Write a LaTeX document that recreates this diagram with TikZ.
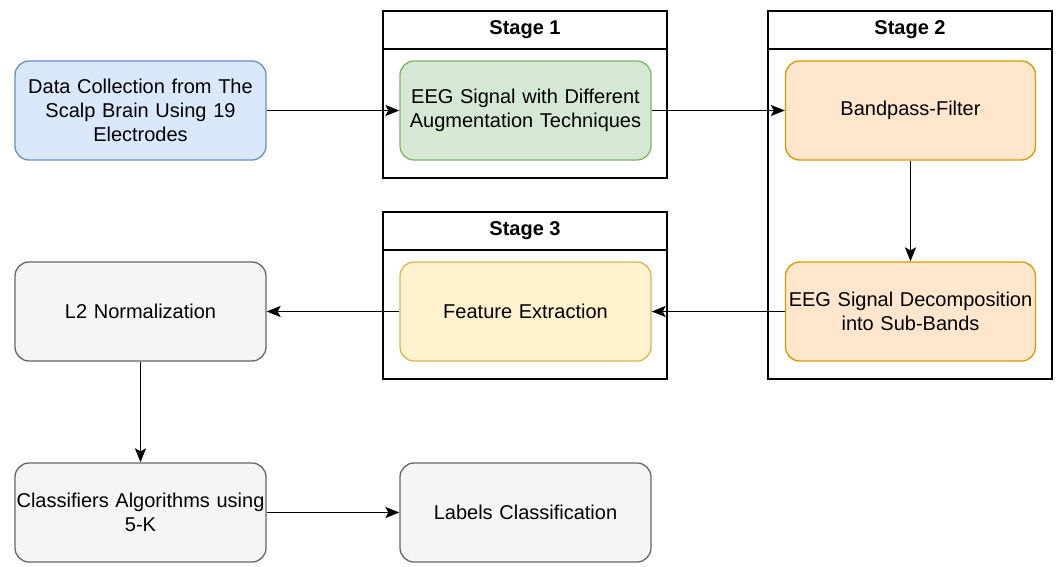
\documentclass[tikz,border=0pt]{standalone}
\usepackage{fontspec}
\setmainfont{Liberation Sans}
\usetikzlibrary{positioning,arrows.meta}
\newcommand{\boxfont}{\fontsize{20}{24}\selectfont\hyphenpenalty=10000\relax}

\begin{document}
\begin{tikzpicture}[x=1pt,y=-1pt,on grid,node distance=201pt and 385pt,
  >={Stealth[length=14pt,width=11pt,inset=3pt]},
  box/.style={draw,rounded corners=14pt,line width=1.3pt,minimum width=251pt,
    minimum height=99pt,inner xsep=1pt,text width=248pt,align=center,
    font=\boxfont},
  blue box/.style={box,fill={rgb,255:red,218;green,232;blue,252},draw={rgb,255:red,108;green,142;blue,191}},
  green box/.style={box,fill={rgb,255:red,213;green,232;blue,212},draw={rgb,255:red,130;green,179;blue,102}},
  orange box/.style={box,fill={rgb,255:red,255;green,230;blue,204},draw={rgb,255:red,215;green,155;blue,0}},
  yellow box/.style={box,fill={rgb,255:red,255;green,242;blue,204},draw={rgb,255:red,214;green,182;blue,86}},
  grey box/.style={box,fill={rgb,255:red,245;green,245;blue,245},draw={rgb,255:red,102;green,102;blue,102}},
  stage/.style={draw,line width=1.4pt},
  title/.style={font=\fontsize{20}{24}\selectfont\bfseries}]
\useasboundingbox (0,0) rectangle (1057,567);

% stage frames
\draw[stage] (383,11) rectangle (667,178) (383,49) -- (667,49);
\draw[stage] (768,11) rectangle (1052,379) (768,49) -- (1052,49);
\draw[stage] (383,212) rectangle (667,379) (383,250) -- (667,250);
\node[title] (t_1) at (525,30) {Stage 1};
\node[title] (t_2) at (910,30) {Stage 2};
\node[title] (t_3) at (525,231) {Stage 3};

\node[blue box] (data) at (140.5,110.5) {Data Collection from The\\ Scalp Brain Using 19\\ Electrodes};
\node[green box] (aug) [right=of data] {EEG Signal with Different\\ Augmentation Techniques};
\node[orange box,minimum width=250pt] (band) [right=of aug] {Bandpass-Filter};

% lower rows
\node[orange box,minimum width=250pt] (decomp) [below=of band] {EEG Signal Decomposition\\ into Sub-Bands};
\node[yellow box] (feat) [below=of aug] {Feature Extraction};
\node[grey box] (norm) [below=of data] {L2 Normalization};
\node[grey box] (clf) [below=of norm] {Classifiers Algorithms using\\ 5-K};
\node[grey box] (lab) [right=of clf] {Labels Classification};

\path[->,line width=1.6pt]
(data) edge (aug)
(aug) edge (band)
(band) edge (decomp)
(decomp) edge (feat)
(feat) edge (norm)
(norm) edge (clf)
(clf) edge (lab)
;
\end{tikzpicture}
\end{document}
